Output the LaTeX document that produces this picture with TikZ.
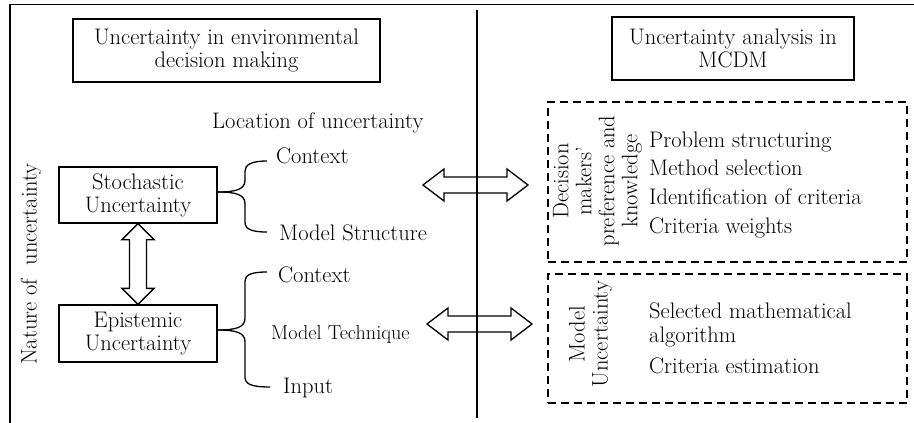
\documentclass[tikz,border=0pt]{standalone}
\usepackage{fontspec}
\usetikzlibrary{calc}
\newcommand\dfont{\fontsize{22.5}{23}\selectfont}
\newcommand\dblH[2]{\draw[arr] let \p1=(#1), \p2=(#2) in (\p1) -- (\x1+21pt,\y1+16pt) -- (\x1+21pt,\y1+8pt) -- (\x2-21pt,\y1+8pt) -- (\x2-21pt,\y1+16pt) -- (\p2) -- (\x2-21pt,\y1-16pt) -- (\x2-21pt,\y1-8pt) -- (\x1+21pt,\y1-8pt) -- (\x1+21pt,\y1-16pt) -- cycle;}
\newcommand\dblV[2]{\draw[arr] let \p1=(#1), \p2=(#2) in (\p1) -- (\x1+16pt,\y1-16pt) -- (\x1+8.5pt,\y1-16pt) -- (\x1+8.5pt,\y2+16pt) -- (\x1+16pt,\y2+16pt) -- (\p2) -- (\x1-16pt,\y2+16pt) -- (\x1-8.5pt,\y2+16pt) -- (\x1-8.5pt,\y1-16pt) -- (\x1-16pt,\y1-16pt) -- cycle;}
\tikzset{
  box/.style={draw, line width=1.3pt, align=center, font=\dfont, inner sep=0pt},
  dashbox/.style={draw, line width=1.3pt, dash pattern=on 8pt off 5pt, inner sep=0pt},
  lbl/.style={font=\dfont, inner sep=0pt, anchor=base west},
  rlbl/.style={font=\dfont, inner sep=0pt, align=center, rotate=90},
  arr/.style={line width=1.3pt, line join=miter},
  brace/.style={line width=1.3pt},
  frame/.style={line width=1.3pt}
}
\begin{document}
\begin{tikzpicture}[x=1pt,y=-1pt]
\useasboundingbox (0,0) rectangle (914,423);
% frame and divider
\coordinate (ftr) at (914,4.5);
\coordinate (ftl) at (10,4.5);
\coordinate (fbl) at (10,423);
\draw[frame] (ftr) -- (ftl) -- (fbl);
\coordinate (dvt) at (477,10);
\coordinate (dvb) at (477,418);
\draw[frame] (dvt) -- (dvb);
% titles
\node[box, minimum width=307pt, minimum height=63pt] (t1) at (226.5,50.5) {Uncertainty in environmental\\decision making};
\node[box, minimum width=242pt, minimum height=63pt] (t2) at (733,48.5) {Uncertainty analysis in\\MCDM};
% left side
\node[lbl] (loc) at (212,128) {Location of uncertainty};
\node[rlbl] (nat) at (31,264) {Nature of\ \ uncertainty};
\node[box, minimum width=158pt, minimum height=56pt] (sto) at (138,195) {Stochastic\\Uncertainty};
\node[box, minimum width=158pt, minimum height=57pt] (epi) at (138,333.5) {Epistemic\\Uncertainty};
\dblV{sto.south}{epi.north}
% braces
\draw[brace] ([yshift=3pt]sto.east) .. controls (237,192) and (245,189) .. (245,180) -- (245,171) .. controls (245,165) and (251,161) .. (267,161);
\draw[brace] ([yshift=3pt]sto.east) .. controls (237,192) and (245,195) .. (245,204) -- (245,222) .. controls (245,229) and (251,232) .. (267,232);
\draw[brace] ([yshift=3.5pt]epi.east) .. controls (237,330) and (245,327) .. (245,318) -- (245,281) .. controls (245,275) and (251,272) .. (267,272);
\draw[brace] ([yshift=3.5pt]epi.east) .. controls (237,330) and (245,333) .. (245,342) -- (245,377) .. controls (245,384) and (251,387) .. (270,387);
\node[lbl] (c1) at (276,163) {Context};
\node[lbl] (ms) at (279,240) {Model Structure};
\node[lbl] (c2) at (278,282) {Context};
\node[lbl, font=\fontsize{20.2}{23}\selectfont] (mt) at (271,339) {Model Technique};
\node[lbl] (inp) at (283,393) {Input};
% horizontal double arrows
\coordinate (h1l) at (423,185);
\coordinate (h1r) at (528,185);
\coordinate (h2l) at (427,324);
\coordinate (h2r) at (532,324);
\dblH{h1l}{h1r}
\dblH{h2l}{h2r}
% right side
\node[dashbox, minimum width=359pt, minimum height=160pt] (d1) at (727.5,182) {};
\node[dashbox, minimum width=359pt, minimum height=129pt] (d2) at (727.5,338.5) {};
\node[rlbl] (dm) at (597.5,181) {Decision\\makers'\\preference and\\knowledge};
\node[lbl] (p1) at (649,147) {Problem structuring};
\node[lbl] (p2) at (649,175) {Method selection};
\node[lbl] (p3) at (649,204) {Identification of criteria};
\node[lbl] (p4) at (649,233) {Criteria weights};
\node[rlbl] (mu) at (590.5,334) {Model\\Uncertainty};
\node[lbl] (q1) at (649,318) {Selected mathematical};
\node[lbl] (q1b) at (649,342) {algorithm};
\node[lbl] (q2) at (649,373) {Criteria estimation};
\end{tikzpicture}
\end{document}
